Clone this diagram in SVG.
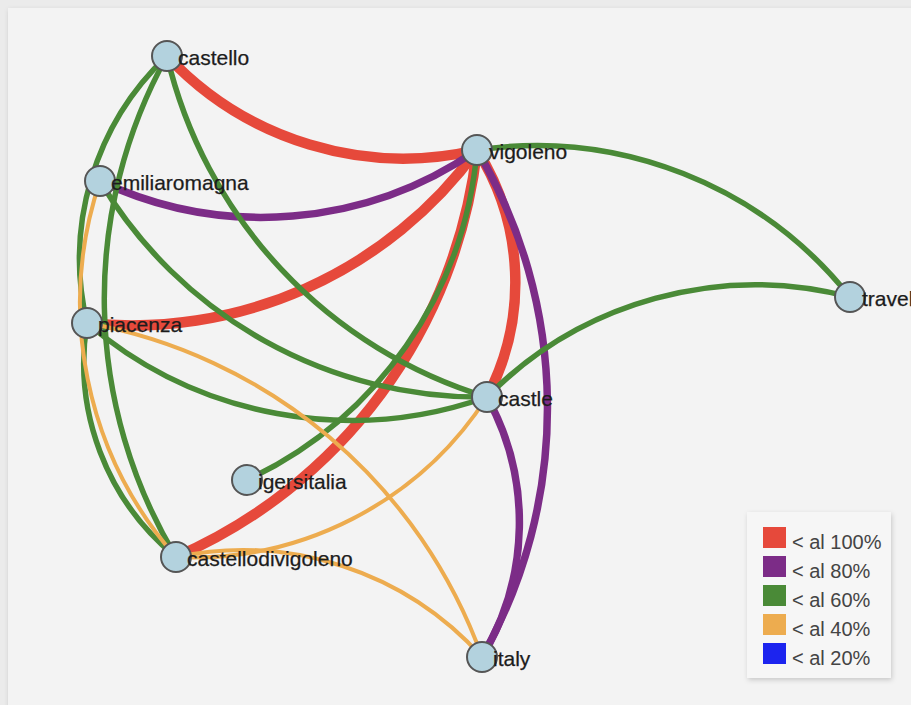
<svg xmlns="http://www.w3.org/2000/svg" width="911" height="705" viewBox="0 0 911 705">
<style>
.e{fill:none;stroke-linecap:butt}
.r{stroke:#e6493b;stroke-width:10.5}
.p{stroke:#7c2c87;stroke-width:7.5}
.g{stroke:#4a8a37;stroke-width:5.5}
.o{stroke:#edac4f;stroke-width:4}
.n circle{fill:#b3d2de;stroke:#555;stroke-width:2}
.n text{font-family:"Liberation Sans",Arial,sans-serif;font-size:21px;fill:#1c1c1c;stroke:#1c1c1c;stroke-width:0.25}
.lg text{font-family:"Liberation Sans",Arial,sans-serif;font-size:20px;fill:#444}
</style>
<defs>
<filter id="sh" x="-10%" y="-10%" width="130%" height="130%">
<feDropShadow dx="1" dy="2" stdDeviation="2.5" flood-color="#000" flood-opacity="0.18"/>
</filter>
</defs>
<rect x="0" y="0" width="911" height="705" fill="#ebebeb"/>
<rect x="8" y="8" width="920" height="720" fill="#f3f3f3" filter="url(#sh)"/>
<g id="connectors">
<path class="e r" d="M167,56 A324,324 0 0,0 477,150"/>
<path class="e r" d="M87,323 A427,427 0 0,0 477,150"/>
<path class="e r" d="M176,557 A506,506 0 0,0 477,150"/>
<path class="e r" d="M477,150 A247,247 0 0,1 487,397"/>
<path class="e p" d="M100,181 A378,378 0 0,0 477,150"/>
<path class="e p" d="M477,150 A507,507 0 0,1 482,657"/>
<path class="e p" d="M487,397 A260,260 0 0,1 482,657"/>
<path class="e g" d="M167,56 A279,279 0 0,0 87,323"/>
<path class="e g" d="M167,56 A501,501 0 0,0 176,557"/>
<path class="e g" d="M167,56 A468,468 0 0,0 487,397"/>
<path class="e g" d="M100,181 A443,443 0 0,0 487,397"/>
<path class="e g" d="M87,323 A407,407 0 0,0 487,397"/>
<path class="e g" d="M247,480 A402,402 0 0,0 477,150"/>
<path class="e g" d="M477,150 A401,401 0 0,1 850,297"/>
<path class="e g" d="M487,397 A377,377 0 0,1 850,297"/>
<path class="e g" d="M87,323 A250,250 0 0,0 176,557"/>
<path class="e o" d="M100,181 A384,384 0 0,0 176,557"/>
<path class="e o" d="M87,323 A517,517 0 0,1 482,657"/>
<path class="e o" d="M487,397 A350,350 0 0,1 176,557"/>
<path class="e o" d="M176,557 A322,322 0 0,1 482,657"/>
</g>
<g id="castello" class="n"><circle cx="167" cy="56" r="15"/><text x="178" y="65">castello</text></g>
<g id="emiliaromagna" class="n"><circle cx="100" cy="181" r="15"/><text x="111" y="190">emiliaromagna</text></g>
<g id="vigoleno" class="n"><circle cx="477" cy="150" r="15"/><text x="489" y="159">vigoleno</text></g>
<g id="piacenza" class="n"><circle cx="87" cy="323" r="15"/><text x="98" y="332">piacenza</text></g>
<g id="travel" class="n"><circle cx="850" cy="297" r="15"/><text x="862" y="306">travel</text></g>
<g id="castle" class="n"><circle cx="487" cy="397" r="15"/><text x="498" y="406">castle</text></g>
<g id="igersitalia" class="n"><circle cx="247" cy="480" r="15"/><text x="258" y="489">igersitalia</text></g>
<g id="castellodivigoleno" class="n"><circle cx="176" cy="557" r="15"/><text x="187" y="566">castellodivigoleno</text></g>
<g id="italy" class="n"><circle cx="482" cy="657" r="15"/><text x="493" y="666">italy</text></g>
<g id="legend" class="lg">
<rect x="747" y="512" width="144" height="166" fill="#f6f6f6" filter="url(#sh)"/>
<rect x="763" y="527" width="23" height="21" fill="#e6493b"/>
<rect x="763" y="556" width="23" height="21" fill="#7c2c87"/>
<rect x="763" y="585" width="23" height="21" fill="#4a8a37"/>
<rect x="763" y="614" width="23" height="21" fill="#edac4f"/>
<rect x="763" y="643" width="23" height="21" fill="#1c24ef"/>
<text x="792" y="549">&lt; al 100%</text>
<text x="792" y="578">&lt; al 80%</text>
<text x="792" y="607">&lt; al 60%</text>
<text x="792" y="636">&lt; al 40%</text>
<text x="792" y="665">&lt; al 20%</text>
</g>
</svg>
